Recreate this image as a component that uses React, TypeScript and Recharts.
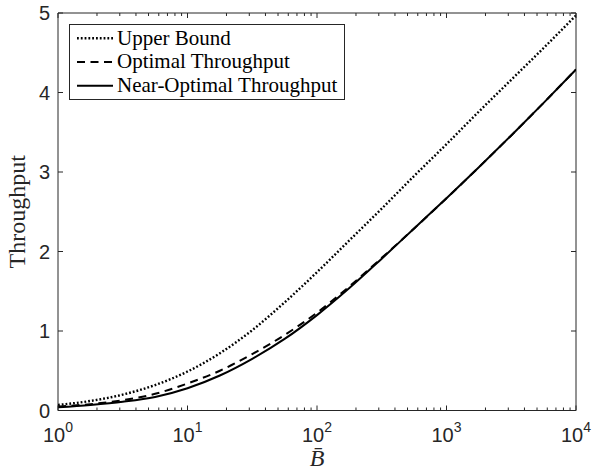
import React from 'react';
import { LineChart, Line, XAxis, YAxis, ReferenceArea, Legend } from 'recharts';

// ---- data ----
const bValues = [1, 1.778, 3.162, 5.623, 10, 17.78, 31.62, 56.23, 100, 177.8, 316.2, 562.3, 1000, 1778, 3162, 5623, 10000];
const upperBound = [0.07, 0.12, 0.2, 0.32, 0.49, 0.72, 1.01, 1.36, 1.74, 2.14, 2.54, 2.95, 3.35, 3.76, 4.16, 4.56, 4.97];
const optimalThroughput = [0.05, 0.08, 0.13, 0.21, 0.34, 0.5, 0.71, 0.95, 1.23, 1.56, 1.92, 2.29, 2.67, 3.06, 3.46, 3.87, 4.29];
const nearOptimalThroughput = [0.04, 0.07, 0.11, 0.17, 0.28, 0.44, 0.65, 0.9, 1.2, 1.54, 1.91, 2.29, 2.67, 3.06, 3.46, 3.87, 4.29];

const yTicks = [0, 1, 2, 3, 4, 5];
const xMajorTicks = [1, 10, 100, 1000, 10000];
const xMinorTicks = [
  2, 3, 4, 5, 6, 7, 8, 9,
  20, 30, 40, 50, 60, 70, 80, 90,
  200, 300, 400, 500, 600, 700, 800, 900,
  2000, 3000, 4000, 5000, 6000, 7000, 8000, 9000,
];
const seriesNames = ['Upper Bound', 'Optimal Throughput', 'Near-Optimal Throughput'];
const xLabel = 'B\u0304';
const yLabel = 'Throughput';

const data = bValues.map((b, i) => ({
  b,
  upper: upperBound[i],
  optimal: optimalThroughput[i],
  near: nearOptimalThroughput[i],
}));

// ---- layout / style ----
const W = 594;
const H = 472;
const PLOT_LEFT = 58;
const PLOT_TOP = 13;
const PLOT_RIGHT = 576;
const PLOT_BOTTOM = 410.5;
const AXIS = '#262626';
const SANS = '"Liberation Sans", Arial, Helvetica, sans-serif';
const SERIF = '"Liberation Serif", "Times New Roman", serif';

const DOTTED = '1.8 2';
const DASHED = '8 5.5';

const allXTicks = [...xMajorTicks, ...xMinorTicks].sort((a, b) => a - b);

const XTick = (props: any) => {
  const { x, payload } = props;
  const v = payload.value;
  const major = xMajorTicks.includes(v);
  const len = major ? 5 : 3;
  const exp = Math.round(Math.log10(v));
  return (
    <g>
      <line x1={x} x2={x} y1={PLOT_BOTTOM} y2={PLOT_BOTTOM - len} stroke={AXIS} strokeWidth={1} />
      <line x1={x} x2={x} y1={PLOT_TOP} y2={PLOT_TOP + len} stroke={AXIS} strokeWidth={1} />
      {major && (
        <text x={x} y={442} textAnchor="middle" fontFamily={SANS} fontSize={20} fill={AXIS}>
          <tspan>10</tspan>
          <tspan dy={-10} fontSize={14}>{exp}</tspan>
        </text>
      )}
    </g>
  );
};

const YTick = (props: any) => {
  const { y, payload } = props;
  return (
    <g>
      <line x1={PLOT_LEFT} x2={PLOT_LEFT + 5} y1={y} y2={y} stroke={AXIS} strokeWidth={1} />
      <line x1={PLOT_RIGHT - 5} x2={PLOT_RIGHT} y1={y} y2={y} stroke={AXIS} strokeWidth={1} />
      <text x={50} y={y} dy={7} textAnchor="end" fontFamily={SANS} fontSize={20} fill={AXIS}>
        {payload.value}
      </text>
    </g>
  );
};

const legendDash = [DOTTED, DASHED, undefined];
const legendWidth = [2.4, 2, 2];

const LegendBox = () => (
  <div
    style={{
      width: 276,
      height: 76,
      boxSizing: 'border-box',
      border: `1px solid ${AXIS}`,
      background: '#fff',
    }}
  >
    <svg width={274} height={74} style={{ display: 'block' }}>
      {seriesNames.map((name, i) => {
        const ly = 13.3 + i * 23.7;
        return (
          <g key={name}>
            <line x1={7} x2={43} y1={ly} y2={ly} stroke="#000" strokeWidth={legendWidth[i]} strokeDasharray={legendDash[i]} />
            <text x={47} y={ly + 6.2} fontFamily={SERIF} fontSize={21} fill="#000">
              {name}
            </text>
          </g>
        );
      })}
    </svg>
  </div>
);

export default function App() {
  return (
    <div style={{ position: 'absolute', left: 0, top: 0, width: W, height: H, background: '#fff' }}>
      <LineChart width={W} height={H} data={data} margin={{ top: PLOT_TOP, right: W - PLOT_RIGHT, bottom: 0, left: 0 }}>
        <XAxis
          dataKey="b"
          type="number"
          scale="log"
          domain={[1, 10000]}
          allowDataOverflow
          ticks={allXTicks}
          interval={0}
          tick={<XTick />}
          tickLine={false}
          axisLine={false}
          height={H - PLOT_BOTTOM}
          label={(p: any) => {
            const vb = p.viewBox || {};
            const cx = (vb.x ?? PLOT_LEFT) + (vb.width ?? PLOT_RIGHT - PLOT_LEFT) / 2;
            return (
              <text x={cx} y={466} textAnchor="middle" fontFamily={SERIF} fontStyle="italic" fontSize={24} fill={AXIS}>
                {xLabel}
              </text>
            );
          }}
        />
        <YAxis
          type="number"
          domain={[0, 5]}
          ticks={yTicks}
          interval={0}
          tick={<YTick />}
          tickLine={false}
          axisLine={false}
          width={PLOT_LEFT}
          label={() => (
            <text
              x={25}
              y={(PLOT_TOP + PLOT_BOTTOM) / 2}
              textAnchor="middle"
              transform={`rotate(-90 25 ${(PLOT_TOP + PLOT_BOTTOM) / 2})`}
              fontFamily={SERIF}
              fontSize={24}
              fill={AXIS}
            >
              {yLabel}
            </text>
          )}
        />
        <Line
          type="monotone"
          dataKey="upper"
          name={seriesNames[0]}
          stroke="#000"
          strokeWidth={2.4}
          strokeDasharray={DOTTED}
          dot={false}
          isAnimationActive={false}
        />
        <Line
          type="monotone"
          dataKey="optimal"
          name={seriesNames[1]}
          stroke="#000"
          strokeWidth={2}
          strokeDasharray={DASHED}
          dot={false}
          isAnimationActive={false}
        />
        <Line
          type="monotone"
          dataKey="near"
          name={seriesNames[2]}
          stroke="#000"
          strokeWidth={2}
          dot={false}
          isAnimationActive={false}
        />
        <ReferenceArea x1={1} x2={10000} y1={0} y2={5} fill="none" stroke={AXIS} strokeWidth={1} ifOverflow="visible" />
        <Legend
          layout="vertical"
          align="center"
          verticalAlign="middle"
          wrapperStyle={{ left: 69, top: 24, width: 276, height: 76 }}
          content={() => <LegendBox />}
        />
      </LineChart>
    </div>
  );
}
